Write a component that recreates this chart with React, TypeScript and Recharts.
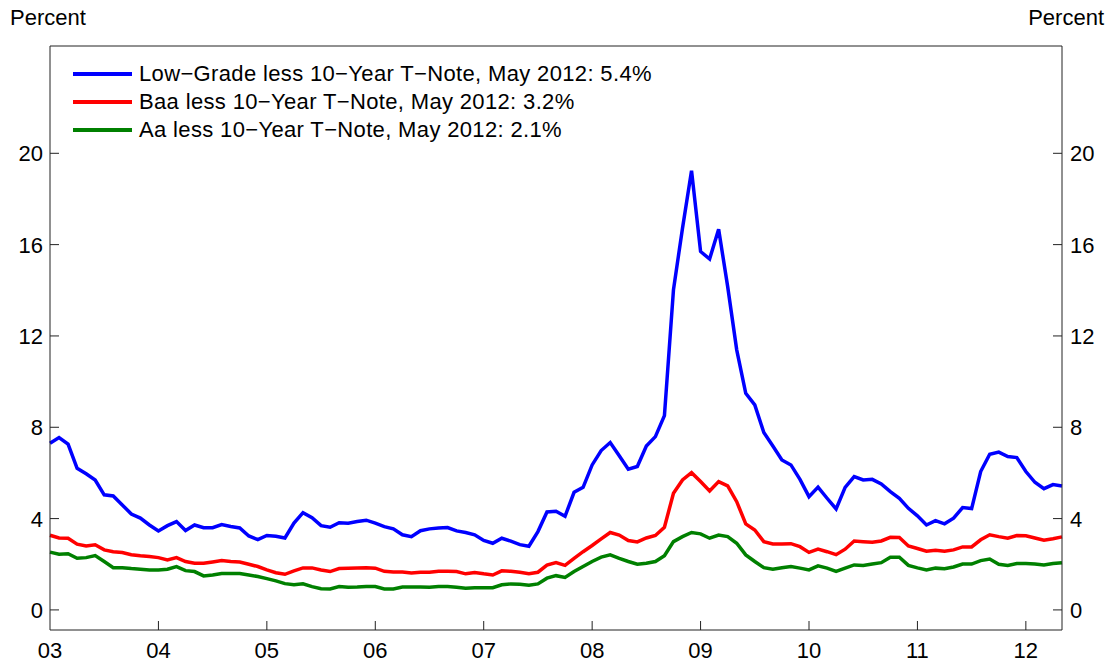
import React from 'react';
import { LineChart, Line, XAxis, YAxis, Legend } from 'recharts';

// monthly spreads, Jan 2003 .. May 2012 (percentage points)
const lowGrade = [
  7.3, 7.55, 7.26, 6.2, 5.96, 5.69, 5.04, 4.99, 4.6, 4.2, 4.02, 3.72, 3.46, 3.69, 3.87, 3.48, 3.72, 3.6, 3.6, 3.74, 3.65, 3.59, 3.24, 3.08, 3.26, 3.23, 3.15, 3.8, 4.26, 4.04,
  3.69, 3.62, 3.82, 3.8, 3.87, 3.93, 3.8, 3.65, 3.55, 3.29, 3.21, 3.47, 3.55, 3.59, 3.61, 3.46, 3.39, 3.29, 3.04, 2.92, 3.14, 3.01, 2.86, 2.79, 3.43, 4.29, 4.32, 4.1,
  5.15, 5.37, 6.35, 6.98, 7.33, 6.75, 6.16, 6.28, 7.18, 7.59, 8.51, 14.02, 16.72, 19.24, 15.7, 15.37, 16.67, 14.16, 11.39, 9.49, 8.98, 7.77, 7.18, 6.57, 6.35, 5.72, 4.96, 5.38,
  4.89, 4.42, 5.37, 5.84, 5.69, 5.72, 5.52, 5.18, 4.89, 4.45, 4.12, 3.72, 3.91, 3.77, 4.02, 4.48, 4.44, 6.06, 6.82, 6.91, 6.72, 6.67, 6.06, 5.59, 5.31, 5.49, 5.43,
];
const baa = [
  3.27, 3.15, 3.14, 2.88, 2.8, 2.85, 2.63, 2.55, 2.51, 2.42, 2.37, 2.34, 2.29, 2.19, 2.29, 2.12, 2.04, 2.04, 2.1, 2.16, 2.12, 2.1, 2.0, 1.9, 1.75, 1.63, 1.56, 1.71, 1.84, 1.84,
  1.75, 1.68, 1.81, 1.83, 1.84, 1.85, 1.83, 1.69, 1.66, 1.66, 1.62, 1.65, 1.65, 1.69, 1.69, 1.68, 1.58, 1.64, 1.58, 1.53, 1.71, 1.69, 1.65, 1.59, 1.65, 1.96, 2.07, 1.95,
  2.26, 2.55, 2.82, 3.11, 3.39, 3.28, 3.04, 2.98, 3.15, 3.26, 3.62, 5.11, 5.69, 6.01, 5.62, 5.21, 5.62, 5.43, 4.74, 3.77, 3.5, 2.99, 2.89, 2.89, 2.9, 2.77, 2.52, 2.66,
  2.55, 2.42, 2.66, 3.02, 2.99, 2.96, 3.02, 3.18, 3.17, 2.8, 2.69, 2.57, 2.61, 2.57, 2.63, 2.76, 2.76, 3.07, 3.29, 3.21, 3.14, 3.26, 3.25, 3.15, 3.05, 3.12, 3.2,
];
const aa = [
  2.53, 2.44, 2.46, 2.26, 2.29, 2.38, 2.12, 1.85, 1.85, 1.81, 1.78, 1.75, 1.75, 1.78, 1.9, 1.72, 1.68, 1.49, 1.53, 1.59, 1.6, 1.59, 1.53, 1.46, 1.37, 1.27, 1.15, 1.1, 1.14, 1.02,
  0.93, 0.92, 1.02, 0.99, 1.0, 1.02, 1.02, 0.92, 0.92, 1.0, 1.0, 1.0, 0.99, 1.02, 1.02, 0.99, 0.95, 0.97, 0.97, 0.97, 1.1, 1.14, 1.12, 1.08, 1.14, 1.39, 1.5, 1.42,
  1.68, 1.9, 2.12, 2.31, 2.41, 2.26, 2.12, 2.0, 2.04, 2.12, 2.37, 2.99, 3.21, 3.39, 3.33, 3.14, 3.28, 3.21, 2.92, 2.41, 2.12, 1.85, 1.78, 1.85, 1.9, 1.83, 1.75, 1.93,
  1.83, 1.69, 1.83, 1.97, 1.95, 2.01, 2.07, 2.31, 2.31, 1.95, 1.84, 1.75, 1.83, 1.8, 1.88, 2.01, 2.01, 2.16, 2.23, 2.0, 1.95, 2.03, 2.03, 2.01, 1.97, 2.03, 2.07,
];
const yearLabels = ['03', '04', '05', '06', '07', '08', '09', '10', '11', '12'];
const yTicks = [0, 4, 8, 12, 16, 20];
const seriesNames = [
  'Low\u2212Grade less 10\u2212Year T\u2212Note, May 2012: 5.4%',
  'Baa less 10\u2212Year T\u2212Note, May 2012: 3.2%',
  'Aa less 10\u2212Year T\u2212Note, May 2012: 2.1%',
];
const seriesColors = ['#0000ff', '#ff0000', '#008000'];

const data = lowGrade.map((v, i) => ({ m: i, low: v, baa: baa[i], aa: aa[i] }));
const xTicks = yearLabels.map((_, i) => i * 12);

const FONT = '"Liberation Sans", Arial, sans-serif';
const AXIS = '#222';

const LeftTick = ({ x, y, payload }: any) => (
  <g>
    <line x1={x} x2={x + 9} y1={y} y2={y} stroke={AXIS} />
    <text x={x - 7} y={y + 8} textAnchor="end" fontSize={22} fill="#000">{payload.value}</text>
  </g>
);
const RightTick = ({ x, y, payload }: any) => (
  <g>
    <line x1={x - 9} x2={x} y1={y} y2={y} stroke={AXIS} />
    <text x={x + 8} y={y + 8} textAnchor="start" fontSize={22} fill="#000">{payload.value}</text>
  </g>
);
const BottomTick = ({ x, y, payload }: any) => (
  <g>
    {payload.value > 0 && <line x1={x} x2={x} y1={y - 9} y2={y} stroke={AXIS} />}
    <text x={x} y={y + 28} textAnchor="middle" fontSize={22} fill="#000">{yearLabels[payload.value / 12]}</text>
  </g>
);

const LegendBox = () => (
  <div style={{ fontFamily: FONT, fontSize: 22, letterSpacing: '0.35px', color: '#000' }}>
    {seriesNames.map((name, i) => (
      <div key={name} style={{ display: 'flex', alignItems: 'center', height: 28.2, whiteSpace: 'nowrap' }}>
        <svg width={66} height={28}>
          <line x1={0} x2={59} y1={14} y2={14} stroke={seriesColors[i]} strokeWidth={4} />
        </svg>
        <span>{name}</span>
      </div>
    ))}
  </div>
);

export default function App() {
  return (
    <div style={{ position: 'absolute', left: 0, top: 0, width: 1112, height: 666, background: '#fff', fontFamily: FONT }}>
      <div style={{ position: 'absolute', left: 10, top: 5, fontSize: 22 }}>Percent</div>
      <div style={{ position: 'absolute', right: 8, top: 5, fontSize: 22 }}>Percent</div>
      <LineChart width={1112} height={666} data={data} margin={{ top: 45, right: 0, bottom: 0, left: 0 }} style={{ fontFamily: FONT }}>
        <XAxis xAxisId="b" dataKey="m" type="number" domain={[0, 112]} ticks={xTicks} height={36}
          tickSize={0} tickMargin={0} tickLine={false} axisLine={{ stroke: AXIS }} tick={<BottomTick />} interval={0} />
        <XAxis xAxisId="t" orientation="top" dataKey="m" type="number" domain={[0, 112]} height={1}
          tick={false} tickLine={false} axisLine={{ stroke: AXIS }} />
        <YAxis yAxisId="l" domain={[-0.88, 24.7]} ticks={yTicks} width={50} allowDataOverflow
          tickSize={0} tickMargin={0} tickLine={false} axisLine={{ stroke: AXIS }} tick={<LeftTick />} interval={0} />
        <YAxis yAxisId="r" orientation="right" domain={[-0.88, 24.7]} ticks={yTicks} width={50} allowDataOverflow
          tickSize={0} tickMargin={0} tickLine={false} axisLine={{ stroke: AXIS }} tick={<RightTick />} interval={0} />
        <Legend layout="vertical" align="center" verticalAlign="middle" content={<LegendBox />}
          wrapperStyle={{ left: 73, top: 60, width: 'auto', height: 'auto' }} />
        <Line xAxisId="b" yAxisId="l" type="linear" dataKey="low" stroke={seriesColors[0]} strokeWidth={3.5} dot={false} isAnimationActive={false} />
        <Line xAxisId="b" yAxisId="l" type="linear" dataKey="baa" stroke={seriesColors[1]} strokeWidth={3.5} dot={false} isAnimationActive={false} />
        <Line xAxisId="b" yAxisId="l" type="linear" dataKey="aa" stroke={seriesColors[2]} strokeWidth={3.5} dot={false} isAnimationActive={false} />
      </LineChart>
    </div>
  );
}
